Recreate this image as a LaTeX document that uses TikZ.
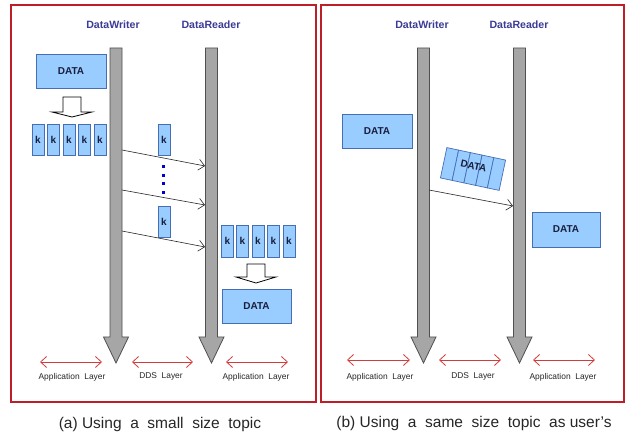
\documentclass[tikz,border=0pt]{standalone}
\usepackage{fontspec}
\setmainfont{Liberation Sans}
\usetikzlibrary{arrows.meta}
\definecolor{boxfill}{RGB}{153,204,255}
\definecolor{boxdraw}{RGB}{70,110,180}
\definecolor{datatext}{RGB}{25,30,60}
\definecolor{titleblue}{RGB}{60,60,150}
\definecolor{barfill}{RGB}{166,166,166}
\definecolor{bardraw}{RGB}{80,80,80}
\definecolor{framered}{RGB}{190,30,40}
\definecolor{layerred}{RGB}{210,60,60}
\definecolor{dotblue}{RGB}{0,0,200}
\newcommand\ddsbar[3]{%
  \draw[bar] (#1-6,#2) -- (#1+6,#2) -- (#1+6,337) -- (#1+12.5,337) -- (#1,363)
    -- (#1-12.5,337) -- (#1-6,337) -- cycle;}
\newcommand\downblock[4]{% cx, top, wing y, tip y
  \draw[blockarrow] (#1-9,#2) -- (#1+9,#2) -- (#1+9,#3) -- (#1+20,#3) -- (#1,#4)
    -- (#1-20,#3) -- (#1-9,#3) -- cycle;}
\begin{document}
\begin{tikzpicture}[x=1pt,y=-1pt,
  frame/.style={draw=framered, line width=1.1pt},
  bluebox/.style={draw=boxdraw, fill=boxfill, line width=0.7pt, inner sep=0pt,
    font=\bfseries\fontsize{10}{12}\selectfont, text=datatext},
  kbox/.style={bluebox, minimum width=12pt, minimum height=31pt},
  databox/.style={bluebox, minimum width=70pt, minimum height=34pt},
  title/.style={font=\bfseries\fontsize{10.6}{12}\selectfont, text=titleblue},
  layerlbl/.style={font=\fontsize{8.4}{10}\selectfont, text=black!85},
  caption/.style={font=\fontsize{15.5}{18}\selectfont, text=black!85},
  conn/.style={-{Straight Barb[length=6pt,width=11pt]}, line width=0.6pt, draw=black!85},
  layer/.style={{Straight Barb[length=6pt,width=11pt]}-{Straight Barb[length=6pt,width=11pt]},
    draw=layerred, line width=0.8pt},
  bar/.style={fill=barfill, draw=bardraw, line width=0.8pt},
  blockarrow/.style={fill=white, draw=black, line width=0.8pt},
  dots/.style={draw=dotblue, line width=3pt, dash pattern=on 3pt off 5.5pt}
]
\useasboundingbox (0,0) rectangle (625,435);
\fill[white] (0,0) rectangle (625,435);

% frames
\draw[frame] (11,5) rectangle (316,402);
\draw[frame] (321,5) rectangle (624,402);

% ---------- panel (a) ----------
\node[title] (wa) at (113,25) {DataWriter};
\node[title] (ra) at (211,25) {DataReader};
\ddsbar{116}{48}{363}
\ddsbar{211.5}{48}{363}

\node[databox] (da1) at (71,71) {DATA};
\downblock{72}{97}{112}{117}
\foreach \i/\x in {1/38,2/53.5,3/69,4/84.5,5/100}
  \node[kbox] (ka\i) at (\x,139.5) {k};
\node[kbox] (ks1) at (164,139.5) {k};
\node[kbox] (ks2) at (164,221.5) {k};
\draw[dots] (163.5,165.5) -- (163.5,195);

\coordinate (wa1) at (122,150);  \coordinate (ra1) at (205,166);
\coordinate (wa2) at (122,190);  \coordinate (ra2) at (205,205);
\coordinate (wa3) at (122,231);  \coordinate (ra3) at (205,247);
\draw[conn] (wa1) -- (ra1);
\draw[conn] (wa2) -- (ra2);
\draw[conn] (wa3) -- (ra3);

\foreach \i/\x in {1/227.5,2/242.5,3/258,4/273.5,5/289}
  \node[kbox, minimum height=32pt] (kb\i) at (\x,241) {k};
\downblock{256}{264}{277}{283}
\node[databox, minimum width=69pt] (da2) at (256.5,306) {DATA};

\coordinate (la1) at (40,362);  \coordinate (la2) at (102,362);
\coordinate (la3) at (132,362); \coordinate (la4) at (193,362);
\coordinate (la5) at (226,362); \coordinate (la6) at (288,362);
\draw[layer] (la1) -- (la2);
\draw[layer] (la3) -- (la4);
\draw[layer] (la5) -- (la6);
\node[layerlbl] (lla1) at (72,377) {Application\ \ Layer};
\node[layerlbl] (lla2) at (161,376) {DDS\ \ Layer};
\node[layerlbl] (lla3) at (256,377) {Application\ \ Layer};

\node[caption] (capa) at (160,424) {(a) Using\ \ a\ \ small\ \ size\ \ topic};

% ---------- panel (b) ----------
\node[title] (wb) at (422,25) {DataWriter};
\node[title] (rb) at (519,25) {DataReader};
\ddsbar{423.5}{48}{363}
\ddsbar{519.5}{48}{363}

\node[databox] (db1) at (377,131.5) {DATA};
\node[databox, minimum width=68pt, minimum height=35pt] (db2) at (566,229.5) {DATA};

\begin{scope}[shift={(473,169)}, rotate=-12]
  \foreach \i in {0,...,4}
    \draw[draw=boxdraw, fill=boxfill, line width=0.7pt] (-30+12*\i,-15.5) rectangle ++(12,31);
  \node[font=\bfseries\fontsize{10}{12}\selectfont, text=datatext, rotate=-12] (pk) at (0,-3) {DATA};
\end{scope}

\coordinate (wb1) at (429,190); \coordinate (rb1) at (513,206);
\draw[conn] (wb1) -- (rb1);

\coordinate (lb1) at (347,360); \coordinate (lb2) at (410,360);
\coordinate (lb3) at (439,360); \coordinate (lb4) at (501,360);
\coordinate (lb5) at (533,360); \coordinate (lb6) at (595,360);
\draw[layer] (lb1) -- (lb2);
\draw[layer] (lb3) -- (lb4);
\draw[layer] (lb5) -- (lb6);
\node[layerlbl] (llb1) at (380,377) {Application\ \ Layer};
\node[layerlbl] (llb2) at (473,376) {DDS\ \ Layer};
\node[layerlbl] (llb3) at (563,377) {Application\ \ Layer};

\node[caption] (capb) at (474,423) {(b) Using\ \ a\ \ same\ \ size\ \ topic\ \ as user's};
\end{tikzpicture}
\end{document}
